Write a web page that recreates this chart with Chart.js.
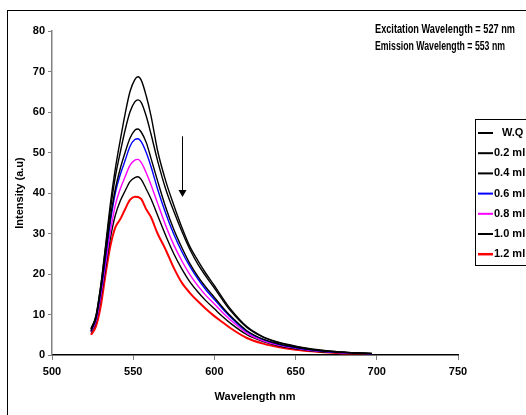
<!DOCTYPE html>
<html>
<head>
<meta charset="utf-8">
<script src="https://cdn.jsdelivr.net/npm/chart.js@4.4.1/dist/chart.umd.min.js"></script>
<style>
  html, body { margin: 0; padding: 0; background: #fff; }
  #wrap { position: relative; width: 526px; height: 415px; }
</style>
</head>
<body>
<div id="wrap"><canvas id="spec" width="526" height="415"></canvas></div>
<script>
// wavelengths (nm) shared by every trace
const wavelengths = [524, 527, 530, 533, 536, 539, 542, 545, 548, 551, 553, 555, 558, 561, 565, 570,
  575, 580, 585, 590, 595, 600, 605, 610, 620, 630, 640, 650, 660, 670, 680, 690, 697];

const seriesNames = ["W.Q", "0.2 ml", "0.4 ml", "0.6 ml", "0.8 ml", "1.0 ml", "1.2 ml"];
const seriesColors = ["#000000", "#000000", "#000000", "#0000ff", "#ff00ff", "#000000", "#ff0000"];

const wq = [6.5, 9.5, 17, 27, 37.5, 46, 53, 59.5, 65, 68, 68.7, 67.8, 64, 59, 50.5, 43,
  37, 31.5, 26.7, 23.2, 20, 17.1, 14.1, 11.3, 7, 4.5, 3.1, 2.2, 1.5, 1.0, 0.7, 0.5, 0.4];
const ml02 = [6.5, 9.5, 17, 26.5, 36, 44, 50, 55.5, 60, 62.5, 63, 62.3, 59, 54.5, 48, 41,
  35.5, 30.5, 26, 22.3, 19.3, 16.5, 13.6, 10.9, 6.8, 4.4, 3.0, 2.1, 1.4, 1.0, 0.7, 0.5, 0.4];
const ml04 = [6, 9, 16, 25, 34, 41, 46, 50, 53.5, 55.5, 55.8, 55, 52.5, 48.5, 43, 36.5,
  31, 26.5, 22.5, 19.3, 16.6, 14.2, 11.8, 9.6, 6, 3.9, 2.7, 1.9, 1.3, 0.9, 0.6, 0.4, 0.3];
const ml06 = [6, 8.8, 15.5, 24, 33, 40, 44.5, 48, 51.5, 53.2, 53.4, 52.6, 50, 46.5, 41, 35,
  29.8, 25.5, 21.8, 18.7, 16, 13.7, 11.4, 9.3, 5.8, 3.8, 2.6, 1.8, 1.2, 0.8, 0.6, 0.4, 0.3];
const ml08 = [5.8, 8.3, 14.5, 22.5, 30.5, 37, 41, 44, 46.8, 48.1, 48.3, 47.5, 45, 42, 37.5, 32,
  27.2, 23.2, 19.8, 17, 14.6, 12.6, 10.5, 8.6, 5.4, 3.5, 2.4, 1.7, 1.1, 0.8, 0.5, 0.4, 0.3];
const ml10 = [5.6, 8, 14, 21.5, 29, 34.5, 38, 40.5, 42.8, 43.8, 44, 43.3, 41, 38.5, 34.5, 29.5,
  25, 21.2, 18, 15.5, 13.3, 11.4, 9.5, 7.8, 5, 3.3, 2.2, 1.5, 1.0, 0.7, 0.5, 0.3, 0.2];
const ml12 = [5, 7, 12, 20, 27, 31.5, 33.5, 36, 38.3, 39.1, 39, 38.5, 36, 34, 30, 26,
  21.5, 17.8, 15.3, 13.2, 11.3, 9.6, 8.1, 6.6, 4.2, 2.8, 1.9, 1.3, 0.9, 0.6, 0.4, 0.3, 0.2];

const allSeries = [wq, ml02, ml04, ml06, ml08, ml10, ml12];

const xTicks = [500, 550, 600, 650, 700, 750];
const yTicks = [0, 10, 20, 30, 40, 50, 60, 70, 80];

const notes = ["Excitation Wavelength = 527 nm", "Emission Wavelength = 553 nm"];
// arrow: at 580 nm, from 54 down to 39 (a.u)
const arrowAt = { x: 580, yFrom: 54, yTo: 39 };

const datasets = allSeries.map((vals, i) => ({
  label: seriesNames[i],
  data: vals.map((v, j) => ({ x: wavelengths[j], y: v })),
  borderColor: seriesColors[i],
  borderWidth: i === 6 ? 2 : 1.4,
  pointRadius: 0,
  fill: false,
  cubicInterpolationMode: "monotone"
}));

const boldFont = { family: "'Liberation Sans', Arial, sans-serif", size: 11, weight: "bold" };

/* ===== extras: frame, notes, arrow, legend ===== */
const extras = {
  id: "extras",
  afterDraw(chart) {
    const ctx = chart.ctx;
    const xs = chart.scales.x, ys = chart.scales.y;
    ctx.save();

    // outer frame (only left & top visible)
    ctx.strokeStyle = "#000";
    ctx.lineWidth = 1;
    ctx.strokeRect(7.5, 10.5, 700, 600);

    // notes
    ctx.fillStyle = "#000";
    ctx.font = "bold 13px 'Liberation Sans Narrow', 'Arial Narrow', 'Liberation Sans', sans-serif";
    ctx.textBaseline = "middle";
    ctx.textAlign = "left";
    notes.forEach((t, i) => {
      const w = ctx.measureText(t).width;
      const target = i === 0 ? 140 : 130;
      ctx.save();
      ctx.translate(375, 29 + i * 17);
      ctx.scale(target / w, 1);
      ctx.fillText(t, 0, 0);
      ctx.restore();
    });

    // arrow
    const ax = Math.round(xs.getPixelForValue(arrowAt.x)) + 0.5;
    const ay1 = ys.getPixelForValue(arrowAt.yFrom);
    const ay2 = ys.getPixelForValue(arrowAt.yTo);
    ctx.strokeStyle = "#000";
    ctx.lineWidth = 1;
    ctx.beginPath();
    ctx.moveTo(ax, ay1);
    ctx.lineTo(ax, ay2 - 4);
    ctx.stroke();
    ctx.beginPath();
    ctx.moveTo(ax - 4, ay2 - 7);
    ctx.lineTo(ax + 4, ay2 - 7);
    ctx.lineTo(ax, ay2);
    ctx.closePath();
    ctx.fill();

    // legend box
    ctx.strokeStyle = "#000";
    ctx.strokeRect(475.5, 119.5, 80, 146);
    ctx.font = "bold 11px 'Liberation Sans', Arial, sans-serif";
    chart.data.datasets.forEach((ds, i) => {
      const y = 133 + i * 20.2;
      ctx.strokeStyle = ds.borderColor;
      ctx.lineWidth = i === 6 ? 2.5 : 2;
      ctx.beginPath();
      ctx.moveTo(478, y);
      ctx.lineTo(493, y);
      ctx.stroke();
      ctx.fillStyle = "#000";
      ctx.fillText(ds.label, i === 0 ? 502 : 494, y);
    });
    ctx.restore();
  }
};

new Chart(document.getElementById("spec"), {
  type: "line",
  data: { datasets },
  plugins: [extras],
  options: {
    responsive: false,
    animation: false,
    layout: { padding: { left: 0, top: 31, right: 68, bottom: 0 } },
    plugins: { legend: { display: false }, tooltip: { enabled: false } },
    scales: {
      x: {
        type: "linear",
        min: 500, max: 750,
        afterBuildTicks: s => { s.ticks = xTicks.map(v => ({ value: v })); },
        afterFit: s => { s.height = 60; },
        grid: { drawOnChartArea: false, tickLength: 5, color: "#808080" },
        border: { color: "#000", width: 1.5 },
        ticks: { color: "#000", font: boldFont, padding: 5, maxRotation: 0 },
        title: { display: true, text: "Wavelength nm", color: "#000", font: boldFont, padding: { top: 0, bottom: 11 } }
      },
      y: {
        min: 0, max: 80,
        afterBuildTicks: s => { s.ticks = yTicks.map(v => ({ value: v })); },
        afterFit: s => { s.width = 52; },
        grid: { drawOnChartArea: false, tickLength: 4, color: "#808080" },
        border: { color: "#808080", width: 1.5 },
        ticks: { color: "#000", font: boldFont, padding: 3 },
        title: { display: true, text: "Intensity (a.u)", color: "#000", font: boldFont, padding: { top: 13, bottom: 0 } }
      }
    }
  }
});
</script>
</body>
</html>
